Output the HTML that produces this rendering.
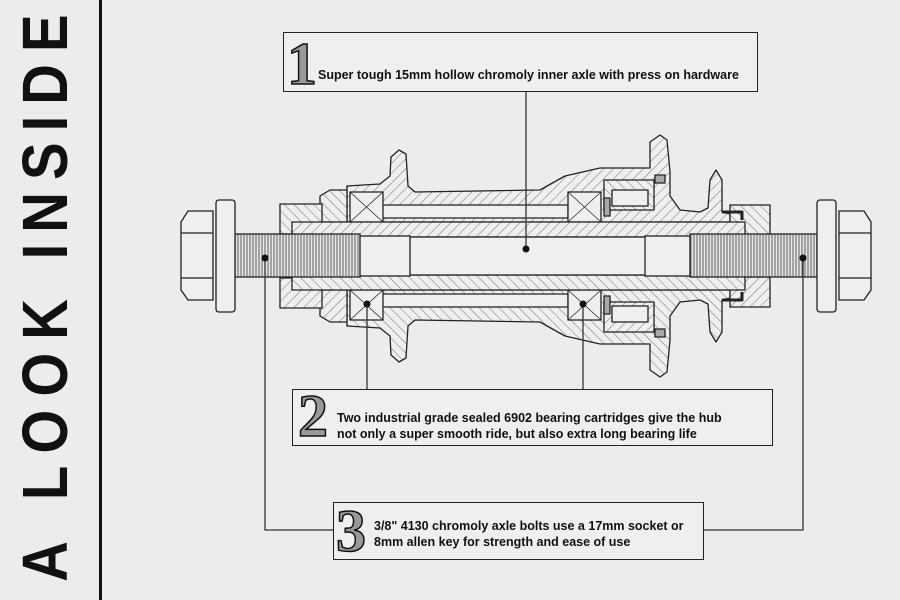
<!DOCTYPE html>
<html style="overflow:hidden;width:900px;height:600px"><head><meta charset="utf-8"><style>
html,body{margin:0;padding:0}
body{width:900px;height:600px;background:#ececec;position:relative;overflow:hidden;font-family:"Liberation Sans",sans-serif}
.vt{position:absolute;left:45px;top:298px;width:573px;height:70px;transform:translate(-50%,-50%) rotate(-90deg);font-weight:bold;font-size:64px;line-height:70px;white-space:nowrap;color:#111;display:flex;justify-content:space-between;align-items:center}
.vt span{display:block;transform:scaleX(0.88)}
.box{position:absolute;border:1.5px solid #222;background:#efefef;box-sizing:border-box}
.t{position:absolute;font-weight:bold;font-size:12.5px;color:#111;line-height:16px;white-space:nowrap}
.n{position:absolute;font-family:"Liberation Serif",serif;font-weight:bold;color:#999;-webkit-text-stroke:1.5px #111}
</style></head><body>
<div class="vt"><span>A</span><span style="width:22px"></span><span>L</span><span>O</span><span>O</span><span>K</span><span style="width:22px"></span><span>I</span><span>N</span><span>S</span><span>I</span><span>D</span><span>E</span></div>
<div style="position:absolute;left:99px;top:0;width:3px;height:600px;background:#111"></div>
<svg width="900" height="600" style="position:absolute;left:0;top:0">
<defs>
<pattern id="h" width="7" height="7" patternUnits="userSpaceOnUse" patternTransform="rotate(45)"><rect width="7" height="7" fill="#efefef"/><line x1="0" y1="0" x2="0" y2="7" stroke="#555" stroke-width="0.8"/></pattern>
<pattern id="h2" width="7" height="7" patternUnits="userSpaceOnUse" patternTransform="rotate(-45)"><rect width="7" height="7" fill="#efefef"/><line x1="0" y1="0" x2="0" y2="7" stroke="#555" stroke-width="0.8"/></pattern>
<pattern id="th" width="3" height="10" patternUnits="userSpaceOnUse"><rect width="3" height="10" fill="#e4e4e4"/><line x1="1" y1="0" x2="1" y2="10" stroke="#444" stroke-width="0.8"/></pattern>
<g id="half" stroke="#222" stroke-width="1.3" stroke-linejoin="round">
<path d="M347,186 L380,184 L390,176 L391,157 L399,150 L406,154 L408,186 L415,192 L540,190 L565,176 L600,168 L650,168 L650,142 L660,135 L667,140 L670,172 L670,196 L680,210 L700,212 L708,208 L710,180 L716,170 L722,180 L722,212 L730,214 L730,222 L347,222 Z" fill="url(#h)"/>
<rect x="382" y="205" width="186" height="13" fill="#efefef"/>
<rect x="350" y="192" width="33" height="30" fill="#efefef"/>
<path d="M350,192 L383,222 M383,192 L350,222" stroke-width="0.7"/>
<rect x="568" y="192" width="33" height="30" fill="#efefef"/>
<path d="M568,192 L601,222 M601,192 L568,222" stroke-width="0.7"/>
<rect x="604" y="180" width="50" height="30" fill="url(#h2)"/>
<rect x="612" y="190" width="36" height="16" fill="#efefef"/>
<rect x="604" y="198" width="6" height="18" fill="#aaa"/>
<rect x="655" y="175" width="10" height="8" fill="#aaa"/>
<path d="M320,196 L330,190 L347,190 L347,222 L320,222 Z" fill="url(#h2)"/>
<rect x="280" y="204" width="42" height="30" fill="url(#h2)"/>
<rect x="730" y="205" width="40" height="30" fill="url(#h2)"/>
<path d="M722,212 L742,212 L742,220" stroke-width="3" fill="none"/>
<rect x="292" y="222" width="453" height="15" fill="url(#h)"/>
</g>
</defs>
<use href="#half"/>
<use href="#half" transform="translate(0,512) scale(1,-1)"/>
<g stroke="#222" stroke-width="1.3">
<rect x="300" y="237" width="440" height="38" fill="#efefef"/>
<rect x="356" y="236" width="54" height="40" fill="#efefef"/>
<rect x="645" y="236" width="48" height="40" fill="#efefef"/>
<rect x="235" y="234" width="125" height="43" fill="url(#th)"/>
<rect x="690" y="234" width="127" height="43" fill="url(#th)"/>
<rect x="216" y="200" width="19" height="112" rx="3" fill="#efefef"/>
<path d="M213,211 L188,211 L181,222 L181,290 L188,300 L213,300 Z M181,233 L213,233 M181,278 L213,278" fill="#efefef"/>
<rect x="817" y="200" width="19" height="112" rx="3" fill="#efefef"/>
<path d="M839,211 L864,211 L871,222 L871,290 L864,300 L839,300 Z M839,233 L871,233 M839,278 L871,278" fill="#efefef"/>
</g>
<g stroke="#333" stroke-width="1.3" fill="none">
<path d="M526,91 L526,249"/>
<path d="M367,304 L367,389 M583,304 L583,389"/>
<path d="M265,258 L265,530 L333,530 M803,258 L803,530 L703,530"/>
</g>
<g fill="#111"><circle cx="526" cy="249" r="3.5"/><circle cx="265" cy="258" r="3.5"/><circle cx="803" cy="258" r="3.5"/><circle cx="367" cy="304" r="3.5"/><circle cx="583" cy="304" r="3.5"/></g>
</svg>
<div class="box" style="left:283px;top:32px;width:475px;height:60px"></div>
<div class="n" style="left:287px;top:30px;font-size:60px">1</div>
<div class="t" style="left:318px;top:67px">Super tough 15mm hollow chromoly inner axle with press on hardware</div>
<div class="box" style="left:292px;top:389px;width:481px;height:57px"></div>
<div class="n" style="left:298px;top:382px;font-size:60px">2</div>
<div class="t" style="left:337px;top:410px">Two industrial grade sealed 6902 bearing cartridges give the hub<br>not only a super smooth ride, but also extra long bearing life</div>
<div class="box" style="left:333px;top:502px;width:371px;height:58px"></div>
<div class="n" style="left:336px;top:497px;font-size:60px">3</div>
<div class="t" style="left:374px;top:518px">3/8" 4130 chromoly axle bolts use a 17mm socket or<br>8mm allen key for strength and ease of use</div>
</body></html>
